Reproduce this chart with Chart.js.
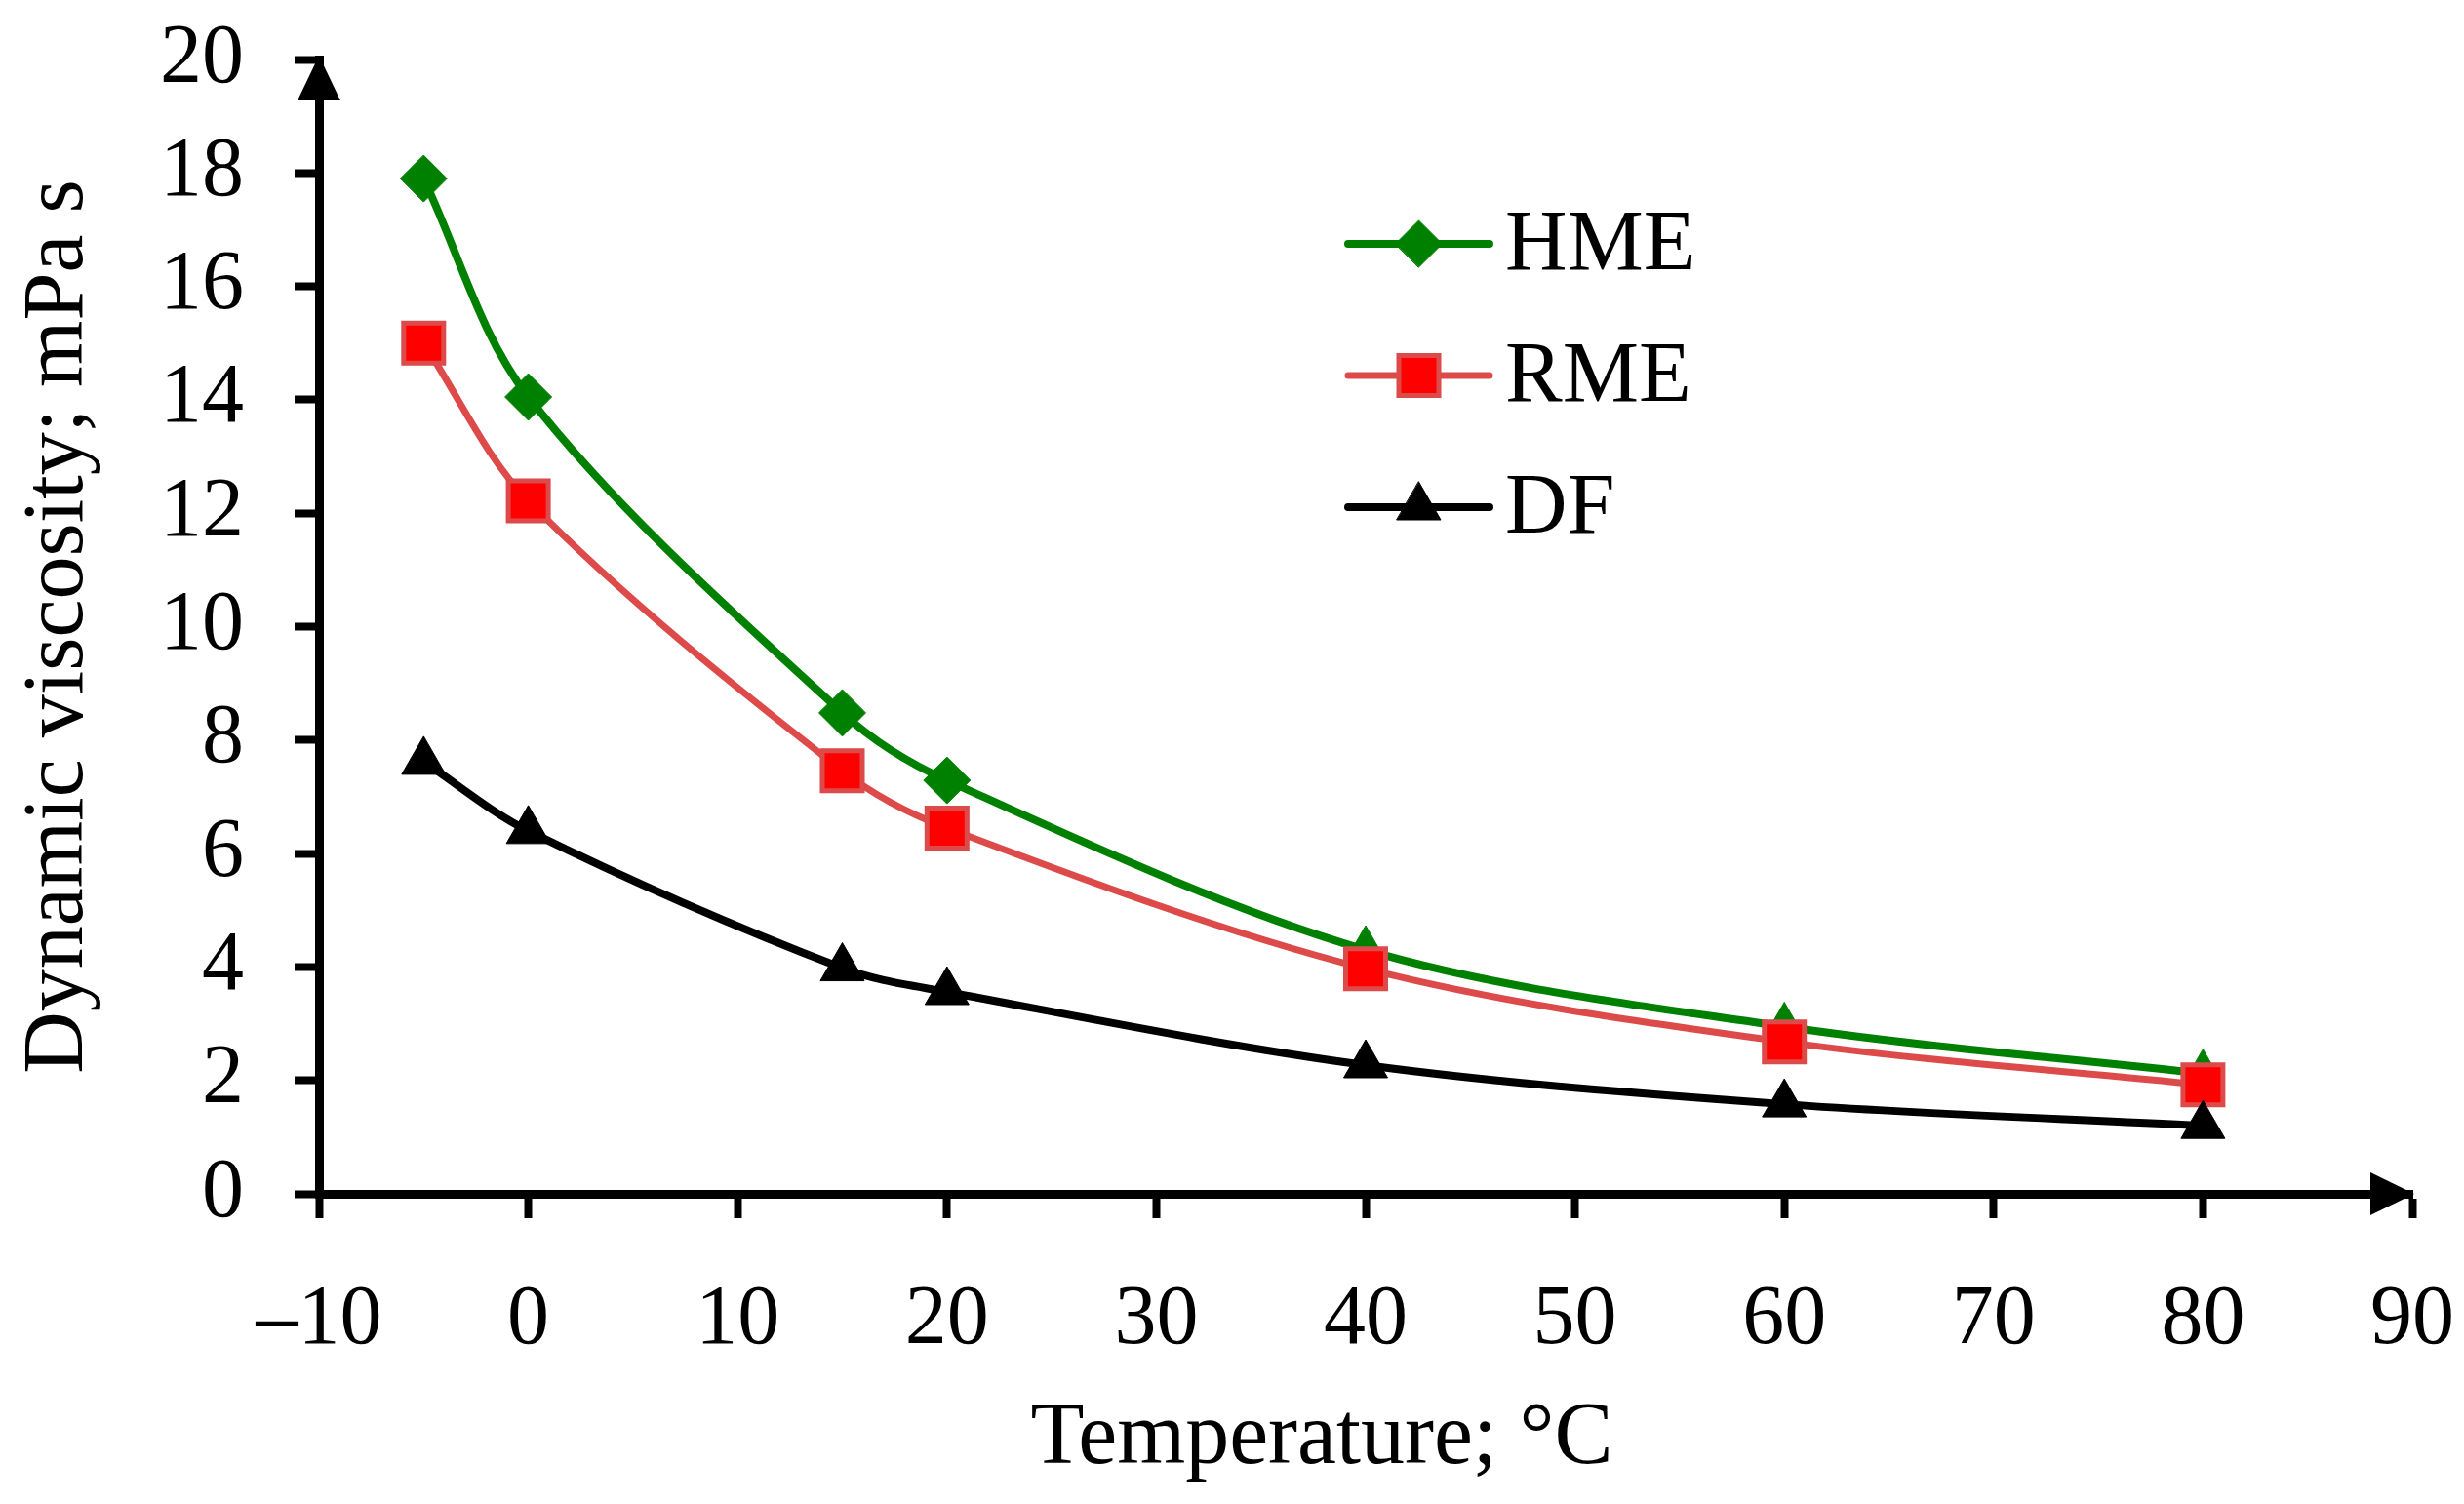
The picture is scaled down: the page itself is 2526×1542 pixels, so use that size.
<!DOCTYPE html>
<html>
<head>
<meta charset="utf-8">
<title>Dynamic viscosity vs temperature</title>
<script src="https://cdn.jsdelivr.net/npm/chart.js@4.4.1/dist/chart.umd.min.js"></script>
<style>
  html, body { margin: 0; padding: 0; background: #fff; }
  #wrap { width: 2526px; height: 1542px; }
</style>
</head>
<body>
<div id="wrap"><canvas id="chart" width="2526" height="1542"></canvas></div>
<script>
// values
const temperature = [-5, 0, 15, 20, 40, 60, 80];
const hme = [17.9, 14.05, 8.48, 7.29, 4.3, 2.95, 2.12];
const rme = [15.0, 12.22, 7.46, 6.45, 3.97, 2.68, 1.92];
const df = [7.62, 6.4, 3.98, 3.56, 2.27, 1.58, 1.2];

const seriesNames = ["HME", "RME", "DF"];
const xTickRange = { min: -10, max: 90, step: 10 };
const yTickRange = { min: 0, max: 20, step: 2 };

const FONT = "'Liberation Serif', 'Times New Roman', serif";

function points(values) {
  return temperature.map((t, i) => ({ x: t, y: values[i] }));
}

// HME switches to triangles from 40 °C on (hidden behind RME squares)
const hmeStyles = ["rectRot", "rectRot", "rectRot", "rectRot", "triangle", "triangle", "triangle"];
const hmeRadius = [24, 24, 24, 24, 25, 25, 25];

const first = (v) => (Array.isArray(v) ? v[0] : v);

const arrowPlugin = {
  id: "axisArrows",
  afterDraw(chart) {
    const ctx = chart.ctx;
    const x = chart.scales.x;
    const y = chart.scales.y;
    const x0 = x.getPixelForValue(xTickRange.min);
    const y0 = y.getPixelForValue(yTickRange.min);
    const yTop = y.getPixelForValue(yTickRange.max);
    const xEnd = x.getPixelForValue(xTickRange.max);
    ctx.save();
    ctx.fillStyle = "#000";
    ctx.beginPath();
    ctx.moveTo(x0, yTop - 4);
    ctx.lineTo(x0 - 22, yTop + 42);
    ctx.lineTo(x0 + 22, yTop + 42);
    ctx.closePath();
    ctx.fill();
    ctx.beginPath();
    ctx.moveTo(xEnd + 2, y0);
    ctx.lineTo(xEnd - 43, y0 - 22);
    ctx.lineTo(xEnd - 43, y0 + 22);
    ctx.closePath();
    ctx.fill();
    ctx.restore();
  },
};

const legendPlugin = {
  id: "insideLegend",
  afterDraw(chart, args, opts) {
    const ctx = chart.ctx;
    ctx.save();
    chart.data.datasets.forEach((ds, i) => {
      const yy = opts.top + i * opts.rowGap;
      const cx = opts.left + opts.lineLen / 2;
      ctx.strokeStyle = ds.borderColor;
      ctx.lineWidth = ds.borderWidth;
      ctx.lineCap = "round";
      ctx.beginPath();
      ctx.moveTo(opts.left, yy);
      ctx.lineTo(opts.left + opts.lineLen, yy);
      ctx.stroke();
      ctx.fillStyle = ds.pointBackgroundColor;
      ctx.strokeStyle = ds.pointBorderColor;
      ctx.lineWidth = ds.pointBorderWidth;
      Chart.helpers.drawPoint(ctx, {
        pointStyle: first(ds.pointStyle),
        radius: first(ds.pointRadius),
        borderWidth: ds.pointBorderWidth,
        rotation: 0,
      }, cx, yy);
      ctx.fillStyle = "#000";
      ctx.font = `88px ${FONT}`;
      ctx.textBaseline = "middle";
      ctx.textAlign = "left";
      ctx.fillText(ds.label, opts.left + opts.lineLen + 16, yy + 3);
    });
    ctx.restore();
  },
};

const ctx = document.getElementById("chart").getContext("2d");
new Chart(ctx, {
  type: "line",
  data: {
    datasets: [
      {
        label: seriesNames[0],
        data: points(hme),
        borderColor: "#008000",
        borderWidth: 8,
        pointStyle: hmeStyles,
        pointRadius: hmeRadius,
        pointBackgroundColor: "#008000",
        pointBorderColor: "#008000",
        pointBorderWidth: 1,
        tension: 0.33,
        order: 2,
      },
      {
        label: seriesNames[1],
        data: points(rme),
        borderColor: "#dd4a4a",
        borderWidth: 7,
        pointStyle: "rect",
        pointRadius: 29,
        pointBackgroundColor: "#ff0000",
        pointBorderColor: "#dd4a4a",
        pointBorderWidth: 5,
        tension: 0.33,
        order: 1,
      },
      {
        label: seriesNames[2],
        data: points(df),
        borderColor: "#000000",
        borderWidth: 8,
        pointStyle: "triangle",
        pointRadius: 26,
        pointBackgroundColor: "#000000",
        pointBorderColor: "#000000",
        pointBorderWidth: 1,
        tension: 0.33,
        order: 0,
      },
    ],
  },
  options: {
    responsive: false,
    devicePixelRatio: 1,
    animation: false,
    layout: { padding: { left: 0, right: 53, top: 61, bottom: 0 } },
    scales: {
      x: {
        type: "linear",
        min: xTickRange.min,
        max: xTickRange.max,
        afterFit: (scale) => {
          scale.height = 318;
          scale.paddingLeft = 0;
          scale.paddingRight = 0;
        },
        ticks: {
          stepSize: xTickRange.step,
          padding: 54,
          color: "#000",
          font: { family: FONT, size: 86 },
          maxRotation: 0,
          callback: (v) => (v < 0 ? `\u2013${Math.abs(v)}` : `${v}`),
        },
        grid: {
          drawOnChartArea: false,
          drawTicks: true,
          tickLength: 25,
          tickWidth: 8,
          tickColor: "#000",
        },
        border: { display: true, color: "#000", width: 9 },
        title: {
          display: true,
          // trailing en spaces nudge the centred title left, as in the figure
          text: "Temperature; °C\u2002\u2002",
          color: "#000",
          font: { family: FONT, size: 90 },
          padding: { top: 0, bottom: 12 },
        },
      },
      y: {
        type: "linear",
        min: yTickRange.min,
        max: yTickRange.max,
        afterFit: (scale) => {
          scale.width = 327;
          scale.paddingTop = 0;
          scale.paddingBottom = 0;
        },
        ticks: {
          stepSize: yTickRange.step,
          padding: 52,
          color: "#000",
          font: { family: FONT, size: 86 },
        },
        grid: {
          drawOnChartArea: false,
          drawTicks: true,
          tickLength: 25,
          tickWidth: 8,
          tickColor: "#000",
        },
        border: { display: true, color: "#000", width: 9 },
        title: {
          display: true,
          text: "Dynamic viscosity; mPa s",
          color: "#000",
          font: { family: FONT, size: 88 },
          padding: { top: 8, bottom: 0 },
        },
      },
    },
    plugins: {
      legend: { display: false },
      tooltip: { enabled: false },
      insideLegend: { left: 1382, top: 250, rowGap: 135, lineLen: 145 },
    },
  },
  plugins: [arrowPlugin, legendPlugin],
});
</script>
</body>
</html>
